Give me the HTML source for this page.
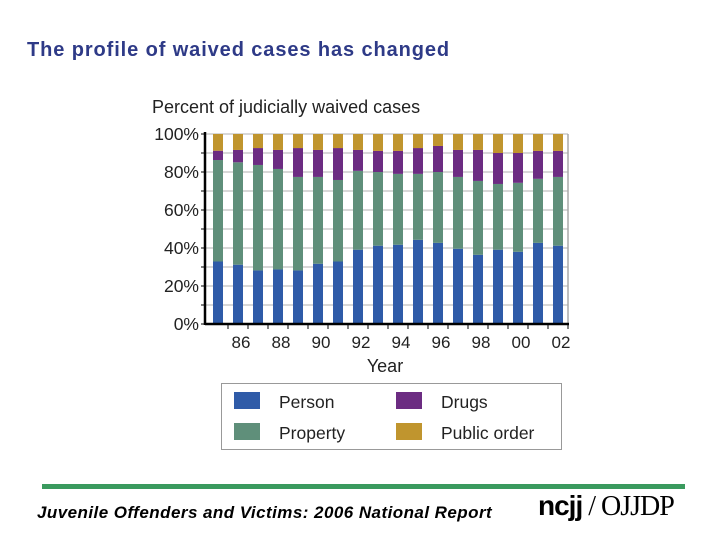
<!DOCTYPE html>
<html><head><meta charset="utf-8"><style>
body{margin:0;width:720px;height:540px;background:#fff;position:relative;overflow:hidden;font-family:"Liberation Sans",sans-serif}
.t{position:absolute;white-space:nowrap}
</style></head><body>
<div class="t" style="left:27px;top:39px;font-size:20px;letter-spacing:0.9px;font-weight:bold;color:#2e3a87">The profile of waived cases has changed</div>
<svg width="720" height="540" style="position:absolute;left:0;top:0">
<g id="g"></g>
</svg>
<div style="position:absolute;left:42px;top:484px;width:643px;height:5px;background:#3a9a5e"></div>
<div class="t" style="left:37px;top:503px;font-size:17px;letter-spacing:0.45px;font-weight:bold;font-style:italic">Juvenile Offenders and Victims: 2006 National Report</div>
<div class="t" style="left:538px;top:490px;font-size:28px;font-weight:bold;letter-spacing:-1px"><span style="font-family:'Liberation Sans';font-weight:900">ncjj</span><span style="font-family:'Liberation Serif';font-weight:normal"> / OJJDP</span></div>
<script>
const years=["85","86","87","88","89","90","91","92","93","94","95","96","97","98","99","00","01","02"];
const person=[32.9,31.2,28.2,28.7,28.2,31.7,32.9,39.1,41.2,41.7,44.3,42.7,39.6,36.4,39.1,38.0,42.7,41.2];
const propertyTop=[86.3,85.1,83.7,81.6,77.4,77.4,75.8,80.6,80.0,79.0,79.0,80.0,77.4,75.3,73.7,74.3,76.4,77.4];
const drugsTop=[91.2,91.6,92.6,91.6,92.6,91.6,92.6,91.6,91.1,91.1,92.6,93.7,91.6,91.6,90.0,90.0,91.1,91.1];
const yTicks=["0%","20%","40%","60%","80%","100%"];
const colors=["#2f5ba8","#5f8f7a","#6c2c82","#c0952e"];
const names=["Person","Property","Drugs","Public order"];
const NS="http://www.w3.org/2000/svg",g=document.getElementById('g');
const x0=205,x1=568,y0=324,y1=134;
const Y=v=>y0-(v/100)*(y0-y1);
const X=i=>213+i*20;
function mk(t,a,txt){const e=document.createElementNS(NS,t);for(const k in a)e.setAttribute(k,a[k]);if(txt!=null)e.textContent=txt;g.appendChild(e);return e;}
for(let v=10;v<=100;v+=10){const l=mk('line',{x1:x0,x2:x1,y1:Y(v),y2:Y(v),stroke:'#b0b0b0','stroke-width':1});

}
mk('line',{x1:x1,x2:x1,y1:y1,y2:y0,stroke:'#aaa','stroke-width':1.5});
years.forEach((yr,i)=>{
 const segs=[[0,person[i]],[person[i],propertyTop[i]],[propertyTop[i],drugsTop[i]],[drugsTop[i],100]];
 segs.forEach((s,k)=>{const r=mk('rect',{x:X(i),y:Y(s[1]),width:10,height:Y(s[0])-Y(s[1]),fill:colors[k]});
 
 });
 if(i>0){mk('line',{x1:X(i)-5,x2:X(i)-5,y1:y0,y2:y0+5,stroke:'#000'});}
 if(i%2===1){const t=mk('text',{x:X(i)+8,y:348,'font-size':17,'text-anchor':'middle',fill:'#222'},yr);
 
 }
});
mk('line',{x1:x1,x2:x1,y1:y0,y2:y0+5,stroke:'#000'});
for(let v=0;v<=100;v+=10){mk('line',{x1:x0-4,x2:x0,y1:Y(v),y2:Y(v),stroke:'#000'});}
yTicks.forEach((t,i)=>{const e=mk('text',{x:199,y:Y(i*20)+6,'font-size':17.5,'text-anchor':'end',fill:'#222'},t);

});
mk('line',{x1:x0,x2:x0,y1:y1-2,y2:y0+1,stroke:'#000','stroke-width':2.5});
mk('line',{x1:x0,x2:x1+1,y1:y0,y2:y0,stroke:'#000','stroke-width':2.5});
const yt=mk('text',{x:152,y:113,'font-size':18,fill:'#222'},'Percent of judicially waived cases');


const xt=mk('text',{x:385,y:372,'font-size':18,'text-anchor':'middle',fill:'#222'},'Year');


const lb=mk('rect',{x:221.5,y:383.5,width:340,height:66,fill:'#fff',stroke:'#999'});


const lp=[[234,392],[234,423],[396,392],[396,423]];
[0,1,2,3].forEach(k=>{const p=lp[k];
 mk('rect',{x:p[0],y:p[1],width:26,height:17,fill:colors[k]});
 const e=mk('text',{x:p[0]+45,y:p[1]+16,'font-size':17.5,fill:'#222'},names[k]);
 
 });
</script>
</body></html>
